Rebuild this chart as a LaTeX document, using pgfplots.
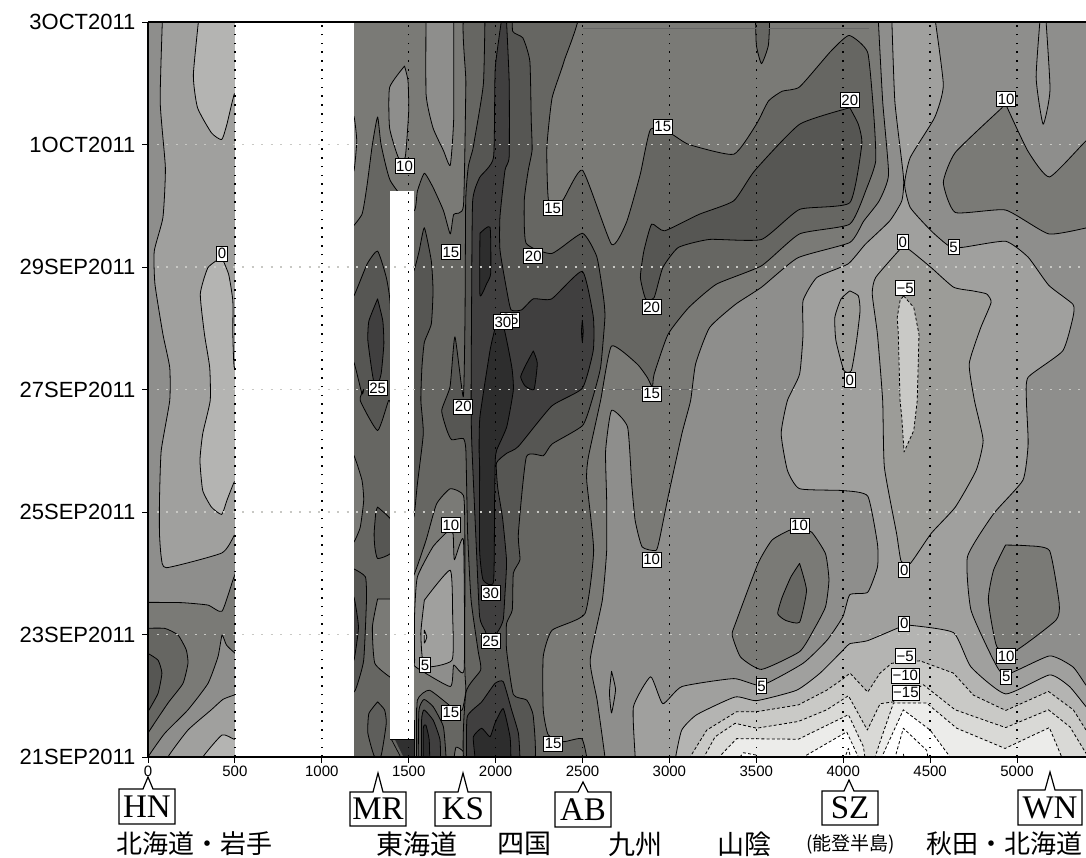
\documentclass[border=0pt]{standalone}
\usepackage{fontspec}
\setmainfont{Liberation Sans}
\newfontfamily\cjk{Noto Sans CJK JP}
\newfontfamily\rmf{Liberation Serif}
\usepackage{pgfplots}
\pgfplotsset{compat=1.18}
\definecolor{cA}{HTML}{2D2D2D}
\definecolor{cB}{HTML}{403F3F}
\definecolor{cC}{HTML}{565653}
\definecolor{cD}{HTML}{666662}
\definecolor{cE}{HTML}{7A7A76}
\definecolor{cF}{HTML}{8E8E8C}
\definecolor{cG}{HTML}{A0A09E}
\definecolor{cH}{HTML}{B4B4B2}
\definecolor{cI}{HTML}{C9C9C6}
\definecolor{cJ}{HTML}{D9D9D6}
\definecolor{cK}{HTML}{ECECEA}
\definecolor{cN}{HTML}{9C9C98}
\definecolor{cS}{HTML}{979795}
\definecolor{cT}{HTML}{5E5E5B}
\definecolor{cU}{HTML}{666666}
\definecolor{cV}{HTML}{303030}
\definecolor{cW}{HTML}{C8C8C4}
\newcommand\band[3][]{\addplot[draw=black,line width=0.8pt,line join=round,smooth,tension=0.3,fill=#2,#1] coordinates {#3} -- cycle;}
\newcommand\dband[2]{\addplot[draw=black,line width=0.8pt,dash pattern=on 3pt off 2.2pt,line join=round,fill=#1] coordinates {#2} -- cycle;}
\newcommand\lab[3]{\node[draw=black,fill=white,line width=0.9pt,inner sep=1.2pt,minimum height=15pt,font=\fontsize{15}{15}\selectfont] at (axis cs:#1,#2) {#3};}
\newcommand\callout[7]{\draw[line width=1.2pt,fill=white] (#3pt,858pt-#5pt) -- (#1pt-5pt,858pt-#5pt) -- (#1pt,858pt-#2pt) -- (#1pt+5pt,858pt-#5pt) -- (#4pt,858pt-#5pt) -- (#4pt,858pt-#6pt) -- (#3pt,858pt-#6pt) -- cycle;
 \node[font=\rmf\fontsize{33}{33}\selectfont,inner sep=0pt] at ({(#3+#4)/2*1pt},{858pt-(#5+#6)/2*1pt}) {#7};}
\begin{document}
\begin{tikzpicture}
\path[use as bounding box] (0,0) rectangle (1086pt,858pt);
\begin{axis}[
  at={(148pt,101pt)},anchor=south west,scale only axis,width=938pt,height=735pt,
  xmin=0,xmax=5397,ymin=0,ymax=12,
  axis x line*=box,axis y line*=left,
  axis line style={line width=2pt,black},
  axis on top,
  tick align=outside,xtick pos=bottom,ytick pos=left,
  tick style={black,line width=0.9pt},major tick length=6pt,
  xtick={0,500,...,5000},
  ytick={0,2,...,12},
  yticklabels={21SEP2011,23SEP2011,25SEP2011,27SEP2011,29SEP2011,1OCT2011,3OCT2011},
  /pgf/number format/assume math mode=true,
  /pgf/number format/set thousands separator={},
  x tick label style={font=\fontsize{15}{15}\selectfont,yshift=1pt},
  y tick label style={font=\fontsize{22}{22}\selectfont,xshift=-3pt},
  clip mode=individual,
]
% base 5-10
\addplot[draw=none,fill=cF] coordinates {(-30,-1)(5450,-1)(5450,13)(-30,13)} -- cycle;
% ---- left panel
\band{cG}{(86,12.3)(70,10.71)(100,9.62)(86,8.81)(36,8.26)(40,7.72)(86,6.9)(125,6.36)(125,5.82)(76,5)(66,4.19)(66,3.65)(76,3.27)(106,3.09)(424,3.33)(496,3.62)(530,3.9)(530,12.3)}
\band{cH}{(301,12.3)(261,11.14)(285,10.6)(365,10.19)(424,10.08)(454,10.33)(496,10.82)(530,10.9)(530,12.3)}
\band{cH}{(424,8.16)(345,7.99)(301,7.56)(325,6.9)(355,6.36)(358,5.82)(315,5.28)(299,4.84)(315,4.35)(365,4.08)(424,3.96)(454,4.19)(496,4.49)(530,4.6)(530,6.36)(496,6.36)(488,6.9)(488,7.45)(464,7.88)(424,8.16)}
\band{cE}{(-30,2.525)(192,2.52)(345,2.48)(426,2.38)(495,2.94)(530,3.1)(530,1.7)(495,1.71)(451,1.83)(426,1.99)(403,1.64)(345,1.2)(230,0.77)(96,0.385)(0,0)(-30,-0.2)}
\band{cD}{(-30,2.1)(96,2.1)(173,1.99)(220,1.75)(230,1.53)(201,1.2)(115,0.88)(0,0.39)(-30,0.2)}
\band{cC}{(-30,1.69)(0,1.69)(58,1.58)(80,1.37)(58,1.04)(0,0.74)(-30,0.6)}
\band{cG}{(115,-0.2)(115,0)(230,0.44)(364,0.77)(431,0.94)(495,1.01)(530,1.02)(530,-0.2)}
\band{cH}{(316,-0.2)(316,0)(426,0.36)(495,0.29)(530,0.28)(530,-0.2)}
% ---- big 0..5 region
\band{cG}{(4277,12.3)(4297,10.71)(4347,9.46)(4337,9.08)(4267,8.75)(4127,8.37)(4028,8.05)(3849,7.83)(3769,7.45)(3769,6.9)(3749,6.25)(3679,5.82)(3643,5.28)(3679,4.68)(3749,4.38)(3998,4.35)(4141,4.26)(4197,3.48)(4197,3.1)(4141,2.69)(4038,2.65)(3998,2.29)(3908,1.91)(3769,1.53)(3530,1.17)(3371,1.28)(3072,1.15)(2962,0.87)(2892,1.31)(2793,0.82)(2803,0)(2803,-0.2)(5450,-0.2)(5450,1.05)(5398,1.17)(5322,1.47)(5187,1.65)(4934,1.34)(4865,1.58)(4735,2.4)(4715,3.27)(4865,3.97)(5034,4.52)(5064,5.11)(5054,5.82)(5064,6.2)(5263,6.63)(5322,7.18)(5322,7.39)(5183,7.7)(5064,8.16)(4934,8.42)(4685,8.32)(4605,8.35)(4506,8.59)(4386,8.97)(4353,9.35)(4386,9.79)(4526,10.44)(4576,10.98)(4516,12.3)}
\band{cN}{(4327,8.29)(4187,7.83)(4167,7.56)(4197,6.9)(4227,5.82)(4237,4.73)(4307,3.65)(4333,3.2)(4386,3.16)(4506,3.65)(4645,4.08)(4765,4.68)(4805,5.17)(4755,5.82)(4725,6.42)(4790,7.0)(4851,7.42)(4825,7.56)(4745,7.61)(4635,7.67)(4506,7.99)(4376,8.29)(4327,8.29)}
\band{cN}{(4038,7.61)(4087,7.53)(4097,7.29)(4077,6.8)(4047,6.31)(4004,6.31)(3958,6.8)(3952,7.18)(3988,7.48)(4038,7.61)}
\dband{cI}{(4347,7.53)(4406,7.34)(4436,6.9)(4426,5.82)(4406,5.33)(4350,4.98)(4337,5.55)(4327,5.82)(4317,6.9)(4311,7.18)(4327,7.45)}
% ---- lower right, below zero
\band{cH}{(3036,-0.2)(3036,0)(3071,0.44)(3157,0.69)(3378,0.98)(3502,0.92)(3732,1.09)(3867,1.37)(4001,1.75)(4038,1.85)(4141,1.9)(4327,2.12)(4386,2.15)(4635,2.03)(4735,1.47)(4934,1.03)(5187,1.34)(5302,1.15)(5398,0.82)(5450,0.7)(5450,-0.2)}
\dband{cI}{(3119,-0.2)(3119,0)(3215,0.44)(3387,0.74)(3502,0.74)(3742,0.85)(3905,1.09)(4001,1.28)(4039,1.37)(4141,1.06)(4212,1.37)(4279,1.53)(4442,1.57)(4634,1.37)(4749,1.01)(4935,0.76)(5181,1.07)(5324,0.77)(5397,0.44)(5450,0.3)(5450,-0.2)}
\dband{cJ}{(3199,-0.2)(3199,0)(3263,0.33)(3378,0.55)(3502,0.47)(3742,0.58)(3905,0.77)(4030,1)(4139,0.44)(4212,0.87)(4289,0.9)(4461,1.18)(4644,0.77)(4935,0.48)(5181,0.77)(5305,0.49)(5397,0.06)(5450,-0.2)}
\dband{cK}{(3286,-0.2)(3286,0)(3387,0.3)(3742,0.29)(4030,0.69)(4116,0.17)(4135,-0.2)(4160,-0.2)(4222,0.33)(4289,0.88)(4480,0.88)(4653,0.47)(4931,0.14)(5186,0.48)(5257,0)(5257,-0.2)}
\dband{white}{(3349,-0.2)(3426,0.07)(3502,0.03)(3540,-0.2)}
\dband{white}{(3771,-0.2)(3771,0)(4020,0.41)(4087,0)(4087,-0.2)}
\dband{white}{(4222,-0.2)(4222,0)(4346,0.77)(4500,0.44)(4615,0)(4615,-0.2)}
\dband{white}{(3982,-0.2)(4030,0.14)(4058,-0.2)}
\dband{white}{(4279,-0.2)(4346,0.47)(4480,0.11)(4500,-0.2)}
\dband{white}{(4330,-0.2)(4346,0.05)(4365,-0.2)}
% lens in 5-10 band
\band{cF}{(2667,1.4)(2690,1.1)(2667,0.72)(2655,1.05)(2667,1.4)}
\band{cS}{(5140,12.3)(5110,11.1)(5150,10.33)(5190,10.9)(5160,12.3)}
% ---- 10-15
\band{cE}{(4197,12.3)(4227,10.71)(4261,9.51)(4207,9.08)(4118,8.75)(4038,8.4)(3739,8.15)(3530,7.67)(3380,7.39)(3231,7.01)(3151,6.42)(3122,5.82)(3072,5.28)(2992,4.24)(2942,3.54)(2922,3.37)(2843,3.43)(2803,3.86)(2783,4.46)(2759,5.39)(2667,5.66)(2633,5)(2639,4.19)(2639,3.37)(2614,2.56)(2544,1.58)(2584,0.93)(2629,0)(2629,-0.2)(1150,-0.2)(1150,12.3)}
\band{cE}{(4914,10.6)(4645,9.87)(4576,9.38)(4645,8.89)(4934,8.93)(5183,8.54)(5420,8.65)(5450,8.65)(5450,10.05)(5398,10.06)(5187,9.47)(5063,9.89)(4944,10.6)(4925,10.72)(4914,10.6)}
\band{cE}{(3749,3.73)(3819,3.67)(3898,3.32)(3918,2.89)(3898,2.45)(3829,2.07)(3749,1.72)(3530,1.43)(3410,1.63)(3361,1.99)(3380,2.18)(3510,3.16)(3590,3.54)(3689,3.7)(3749,3.73)}
\band{cD}{(3749,3.16)(3789,2.72)(3749,2.2)(3669,2.23)(3623,2.34)(3649,2.61)(3699,2.94)(3749,3.16)}
\band{cE}{(4934,3.46)(5054,3.45)(5187,3.37)(5243,2.5)(5223,2.23)(4994,1.74)(4884,1.8)(4835,2.56)(4865,3.05)(4934,3.46)}
\band{cF}{(2324,3.72)(2348,3.42)(2324,3.02)(2305,3.38)(2324,3.72)}
% ---- 15-20
\band{cD}{(1150,8.56)(1231,8.86)(1261,9.35)(1291,10)(1321,10.45)(1341,10)(1394,9.41)(1530,8.92)(1550,9.24)(1590,9.53)(1640,9.3)(1700,8.92)(1739,8.54)(1759,8.86)(1815,9)(1829,10.98)(1839,12.3)(2474,12.3)(2394,11.36)(2325,10.76)(2295,9.95)(2305,9.08)(2384,9.08)(2500,9.58)(2667,8.37)(2753,8.73)(2832,9.51)(2892,10.25)(3012,10.17)(3112,10)(3370,9.84)(3500,10.33)(3570,10.71)(3649,10.87)(3749,10.94)(3928,11.52)(4034,11.78)(4141,11.5)(4177,10.44)(4187,9.73)(4137,9.3)(4038,8.7)(3749,8.54)(3530,8.02)(3271,7.72)(3112,7.34)(2992,6.9)(2912,6.25)(2902,6.04)(2872,6.2)(2813,6.42)(2667,6.71)(2604,5.82)(2534,4.9)(2524,4.52)(2564,3.37)(2514,2.34)(2325,2.07)(2274,1.64)(2274,0.77)(2303,0.36)(2389,0.25)(2495,0.3)(2524,0)(2524,-0.2)(1150,-0.2)}
\band{cD}{(3494,12.3)(3500,11.63)(3530,11.32)(3570,11.63)(3580,12.3)}
% hole at Kansai (10-15 etc.)
\band{cE}{(1500,2.97)(1530,2.97)(1600,3.54)(1660,4.13)(1739,4.38)(1815,4.27)(1823,3.65)(1823,1.47)(1829,1.09)(1808,0.77)(1759,0.79)(1620,1.09)(1550,0.93)(1546,0.2)(1540,-0.2)(1500,-0.2)}
\band{cF}{(1719,3.67)(1639,3.43)(1550,2.94)(1534,2.34)(1534,1.58)(1540,1.47)(1739,1.15)(1759,1.5)(1819,1.43)(1815,3.54)(1763,3.22)(1755,3.65)(1719,3.67)}
\band{cG}{(1590,2.56)(1739,3.05)(1753,2.29)(1749,1.58)(1590,1.48)(1570,2.02)(1590,2.56)}
\band{cH}{(1590,2.07)(1604,1.96)(1590,1.86)(1590,2.07)}
\band{cE}{(1757,-0.1)(1772,0.16)(1814,0.09)(1824,-0.1)}
\band{cC}{(1555,-0.2)(1555,0.03)(1559,0.77)(1588,0.94)(1641,0.82)(1699,0.5)(1714,0.03)(1714,-0.2)}
\band{cB}{(1574,-0.2)(1574,0.6)(1588,0.77)(1641,0.6)(1680,0.28)(1684,-0.2)}
\band{cA}{(1584,-0.2)(1584,0.47)(1599,0.52)(1618,0.28)(1622,-0.2)}
% ---- panel near 1190-1400
\band{cE}{(1150,4.92)(1185,4.92)(1231,4.52)(1241,4.19)(1221,3.75)(1185,3.51)(1150,3.5)}
\band{cE}{(1321,2.58)(1291,2.12)(1305,1.53)(1400,1.29)(1430,1.3)(1430,2.58)}
\band{cC}{(1150,7.53)(1185,7.53)(1261,8.05)(1321,8.26)(1371,7.83)(1394,7.37)(1400,5.82)(1384,5.82)(1321,5.33)(1221,5.82)(1241,6)(1231,5.93)(1185,6.44)(1150,6.44)}
\band{cB}{(1321,7.48)(1271,7.12)(1265,6.8)(1291,6.25)(1311,6)(1341,6.25)(1357,6.74)(1351,7.12)(1321,7.48)}
\band{cC}{(1321,4.08)(1394,3.89)(1420,3.6)(1394,3.32)(1321,3.24)(1305,3.43)(1301,3.65)(1311,4)(1321,4.08)}
\band{cC}{(1150,3.07)(1185,3.07)(1251,2.94)(1257,2.56)(1241,1.58)(1201,1.15)(1185,1.06)(1150,1.06)}
\band{cB}{(1150,2.61)(1185,2.61)(1211,2.12)(1185,1.58)(1150,1.58)}
\band{cT}{(1321,0.9)(1271,0.71)(1265,0.39)(1301,0.02)(1341,0.02)(1371,0.55)(1361,0.77)(1321,0.9)}
\band{cC}{(1500,7.94)(1530,7.94)(1560,8.26)(1590,8.64)(1630,8.1)(1640,7.61)(1630,7.07)(1590,6.77)(1576,6.36)(1570,5.82)(1584,5.28)(1550,4.46)(1530,3.92)(1500,3.92)}
% ---- 20-25 centre
\band{cC}{(1940,12.3)(1930,11)(1880,10.1)(1868,9.91)(1843,9.64)(1828,9.09)(1824,7.19)(1814,5.88)(1766,6.86)(1738,6.05)(1690,5.66)(1719,5.34)(1747,5.18)(1814,5.2)(1829,5)(1839,3.65)(1859,2.56)(1899,1.74)(1914,1.42)(1829,1.05)(1829,-0.2)(2213,-0.2)(2217,0.66)(2179,0.93)(2102,1.02)(2063,1.75)(2063,2.18)(2096,2.4)(2102,3)(2140,3.22)(2131,3.65)(2177,4.9)(2275,4.92)(2325,5.11)(2500,5.41)(2554,5.82)(2604,6.36)(2629,7.18)(2620,7.52)(2582,8.17)(2499,8.55)(2323,8.22)(2175,8.39)(2165,9.09)(2188,9.58)(2210,9.91)(2205,10.4)(2197,11.36)(2157,11.74)(2098,11.85)(2098,12.3)}
\band{cC}{(4038,10.6)(3749,10.33)(3490,9.57)(3370,9.08)(3171,8.86)(2972,8.59)(2898,8.7)(2853,8.26)(2833,7.83)(2863,7.48)(2912,7.5)(2962,7.99)(3052,8.32)(3231,8.45)(3530,8.45)(3749,8.94)(4038,9.05)(4107,10)(4087,10.33)(4038,10.6)}
% ---- 25-30
\band{cB}{(2048,12.3)(1998,11.25)(1988,9.79)(1908,9.46)(1868,9.08)(1862,7.45)(1859,5.82)(1863,5.11)(1889,3.43)(1908,2.29)(1938,2.07)(1968,1.89)(2018,2.07)(2044,2.24)(2054,2.67)(2063,3.2)(2040,3.9)(2012,4.4)(2005,4.8)(2065,4.96)(2131,5.07)(2323,5.73)(2499,6.02)(2562,6.64)(2562,7.19)(2499,7.93)(2323,7.48)(2217,7.48)(2150,7.3)(2089,7.3)(2064,7.62)(2025,8.28)(2025,8.82)(2054,9.58)(2078,9.8)(2078,11.04)(2058,12.3)}
\band{cB}{(1833,-0.2)(1833,0)(1837,0.66)(1920,0.9)(1996,1.2)(2044,1.23)(2092,0.77)(2131,0.39)(2140,0)(2140,-0.2)}
% ---- over 30
\band{cA}{(1997,7)(2045,7.03)(2093,6.37)(2102,5.99)(2064,5.39)(2006,5.01)(1998,4.84)(1994,4.19)(1988,2.86)(1928,2.89)(1908,3.37)(1908,4.73)(1905,5.01)(1910,5.56)(1968,6.64)(1997,7)}
\band{cA}{(1910,8.55)(1968,8.65)(1972,7.9)(1949,7.73)(1910,7.54)(1910,8.55)}
\band{cA}{(2217,6.63)(2240,6.43)(2221,6)(2169,6.06)(2144,6.21)(2179,6.43)(2217,6.63)}
\band{cA}{(2499,7.13)(2504,6.95)(2499,6.78)(2494,6.95)(2499,7.13)}
\band{cA}{(1881,-0.2)(1881,0)(1872,0.33)(1920,0.47)(1968,0.33)(1996,0.55)(2044,0.79)(2083,0.33)(2088,0)(2088,-0.2)}
% ---- lighter lenses on top of 10-15
\band{cF}{(1476,11.28)(1390,10.93)(1390,10.27)(1440,9.79)(1480,9.79)(1500,10.55)(1496,11.04)(1476,11.28)}
\band{cF}{(1600,12.3)(1600,10.82)(1640,10.27)(1700,9.9)(1739,9.66)(1759,10.44)(1759,12.3)}
\band{cF}{(1150,10.46)(1185,10.46)(1201,10.06)(1185,9.57)(1150,9.57)}
% faint horizontal traces
\addplot[color=cU,line width=1.1pt] coordinates {(2500,11.9)(4150,11.9)};
\addplot[color=cU,line width=1.1pt] coordinates {(2650,6)(3160,6)};
% missing data
\addplot[draw=none,fill=white] coordinates {(500,-0.5)(1188,-0.5)(1188,12.5)(500,12.5)} -- cycle;
\addplot[draw=none,fill=white] coordinates {(1394,0.29)(1530,0.29)(1530,9.24)(1394,9.24)} -- cycle;
% steep strip under the gap
\addplot[draw=none,fill=cV] coordinates {(1420,0.29)(1530,0.29)(1530,0)(1470,0)} -- cycle;
\addplot[black,line width=0.7pt] coordinates {(1394,0.29)(1530,0.29)};
\addplot[black,line width=0.7pt] coordinates {(1400,0.29)(1450,0.02)};
\addplot[black,line width=0.7pt] coordinates {(1535,0)(1535,0.6)};
\addplot[black,line width=0.7pt] coordinates {(1545,0)(1545,0.8)};
% grid
\addplot[black,line width=1.5pt,dash pattern=on 1.6pt off 7.2pt] coordinates {(500,0)(500,12)};
\addplot[black,line width=1.5pt,dash pattern=on 1.6pt off 7.2pt] coordinates {(1000,0)(1000,12)};
\addplot[black,line width=1.5pt,dash pattern=on 1.6pt off 7.2pt] coordinates {(1500,0)(1500,12)};
\addplot[black,line width=1.5pt,dash pattern=on 1.6pt off 7.2pt] coordinates {(2000,0)(2000,12)};
\addplot[black,line width=1.5pt,dash pattern=on 1.6pt off 7.2pt] coordinates {(2500,0)(2500,12)};
\addplot[black,line width=1.5pt,dash pattern=on 1.6pt off 7.2pt] coordinates {(3000,0)(3000,12)};
\addplot[black,line width=1.5pt,dash pattern=on 1.6pt off 7.2pt] coordinates {(3500,0)(3500,12)};
\addplot[black,line width=1.5pt,dash pattern=on 1.6pt off 7.2pt] coordinates {(4000,0)(4000,12)};
\addplot[black,line width=1.5pt,dash pattern=on 1.6pt off 7.2pt] coordinates {(4500,0)(4500,12)};
\addplot[black,line width=1.5pt,dash pattern=on 1.6pt off 7.2pt] coordinates {(5000,0)(5000,12)};
\addplot[cW,line width=1.1pt,dash pattern=on 2pt off 7.5pt] coordinates {(50,2)(5397,2)};
\addplot[cW,line width=1.1pt,dash pattern=on 2pt off 7.5pt] coordinates {(50,4)(5397,4)};
\addplot[cW,line width=1.1pt,dash pattern=on 2pt off 7.5pt] coordinates {(50,6)(5397,6)};
\addplot[cW,line width=1.1pt,dash pattern=on 2pt off 7.5pt] coordinates {(50,8)(5397,8)};
\addplot[cW,line width=1.1pt,dash pattern=on 2pt off 7.5pt] coordinates {(50,10)(5397,10)};
% contour labels
\lab{426}{8.22}{0}\lab{1476}{9.65}{10}\lab{1743}{8.24}{15}\lab{1321}{6.02}{25}
\lab{2084}{7.14}{25}\lab{2042}{7.1}{30}\lab{2217}{8.18}{20}\lab{2328}{8.96}{15}
\lab{2962}{10.29}{15}\lab{4038}{10.72}{20}\lab{4938}{10.74}{10}\lab{4343}{8.41}{0}
\lab{4635}{8.32}{5}\lab{4356}{7.65}{−5}\lab{4038}{6.15}{0}\lab{2898}{7.34}{20}
\lab{2898}{5.93}{15}\lab{1814}{5.72}{20}\lab{1743}{3.79}{10}\lab{1972}{2.68}{30}
\lab{1972}{1.89}{25}\lab{1594}{1.5}{5}\lab{1743}{0.72}{15}\lab{2331}{0.22}{15}
\lab{2898}{3.22}{10}\lab{3749}{3.78}{10}\lab{4351}{3.05}{0}\lab{4351}{2.18}{0}
\lab{4357}{1.65}{−5}\lab{4357}{1.33}{−10}\lab{4361}{1.05}{−15}\lab{4938}{1.65}{10}
\lab{4938}{1.31}{5}\lab{3530}{1.16}{5}
\end{axis}
\callout{148}{777}{119}{175}{789}{824}{HN}
\callout{378}{773}{350}{406}{792}{826}{MR}
\callout{463}{773}{435}{491}{792}{826}{KS}
\callout{583}{782}{555}{611}{792}{827}{AB}
\callout{849}{780}{822}{878}{791}{825}{SZ}
\callout{1050}{772}{1018}{1082}{790}{825}{WN}
\node[font=\cjk\fontsize{26}{26}\selectfont,inner sep=0pt] at (194.5pt,14pt) {北海道・岩手};
\node[font=\cjk\fontsize{27}{27}\selectfont,inner sep=0pt] at (417pt,14pt) {東海道};
\node[font=\cjk\fontsize{27}{27}\selectfont,inner sep=0pt] at (524pt,14pt) {四国};
\node[font=\cjk\fontsize{27}{27}\selectfont,inner sep=0pt] at (635.5pt,14pt) {九州};
\node[font=\cjk\fontsize{27}{27}\selectfont,inner sep=0pt] at (744.5pt,14pt) {山陰};
\node[font=\cjk\fontsize{19}{19}\selectfont,inner sep=0pt] at (850.5pt,14pt) {(能登半島)};
\node[font=\cjk\fontsize{26}{26}\selectfont,inner sep=0pt] at (1004.5pt,14pt) {秋田・北海道};
\end{tikzpicture}
\end{document}
